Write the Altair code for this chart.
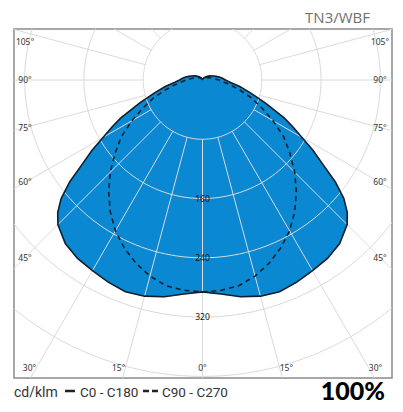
import altair as alt
import pandas as pd
import math

# ---------------- data ----------------
# C0 - C180 plane (solid, filled), cd/klm vs gamma (degrees)
gamma_solid = [0, 5, 10, 15, 20, 25, 30, 35, 40, 45, 47.5, 50, 52.5, 55, 57.5, 60, 62.5, 65,
               70, 75, 80, 85, 90, 95, 100, 105, 110, 120, 135, 150, 165, 180]
i_solid = [286, 290, 297, 302, 304, 301, 297, 294, 288, 276, 265, 249, 226, 198, 177, 155, 138, 122,
           90, 67, 51, 38, 31, 27, 23, 19, 16, 11, 6, 3, 1.5, 1]

# C90 - C270 plane (dashed)
gamma_dash = [0, 5, 10, 15, 20, 25, 30, 35, 40, 45, 50, 55, 60, 65, 70, 75, 80, 85, 90,
              100, 110, 120, 135, 150, 165, 180]
i_dash = [286, 285, 282, 274, 263, 250, 235, 217, 197, 176, 154, 134, 110, 88, 70, 52, 38, 28, 22,
          14, 9, 6, 4, 2, 1, 1]

ring_values = [80, 160, 240, 320, 400, 480, 560, 640]
ring_labels = [160, 240, 320]
spoke_angles = list(range(0, 360, 15))
side_angle_labels = [105, 90, 75, 60, 45]
bottom_angle_labels = [30, 15, 0]

title_text = "TN3/WBF"
unit_text = "cd/klm"
legend_c0 = "C0 - C180"
legend_c90 = "C90 - C270"
efficiency_text = "100%"

# ---------------- layout ----------------
W, H = 378, 349
K = 0.741          # px per cd
CX, CY = 188.5, 51  # pole position inside the plot area (px)
xdom = [-CX / K, (W - CX) / K]
ydom = [-(H - CY) / K, CY / K]
xs = alt.Scale(domain=xdom, nice=False, zero=False)
ys = alt.Scale(domain=ydom, nice=False, zero=False)

FILL = "#0a88d2"
GRID = "#dadada"
INK = "#12202c"
LABEL_FONT = "Noto Sans"
FOOT_FONT = "Roboto"

# polygon / curve tables
def curve(gammas, values, name):
    rows = []
    n = 0
    for g, v in zip(reversed(gammas), reversed(values)):
        rows.append({"gamma": g, "I": v, "side": -1, "ord": n, "curve": name}); n += 1
    for g, v in zip(gammas, values):
        rows.append({"gamma": g, "I": v, "side": 1, "ord": n, "curve": name}); n += 1
    return pd.DataFrame(rows)

solid_df = curve(gamma_solid, i_solid, "C0 - C180")
dash_df = curve(gamma_dash, i_dash, "C90 - C270")

ring_rows = []
for r in ring_values:
    for j, t in enumerate(range(0, 362, 2)):
        ring_rows.append({"gamma": t, "I": r, "side": 1, "ord": j, "ring": r})
ring_df = pd.DataFrame(ring_rows)

spoke_rows = []
for a in spoke_angles:
    spoke_rows.append({"gamma": a, "I": 80, "side": 1, "ord": 0, "spoke": a})
    spoke_rows.append({"gamma": a, "I": 900, "side": 1, "ord": 1, "spoke": a})
spoke_df = pd.DataFrame(spoke_rows)

calc_x = "datum.side * datum.I * sin(datum.gamma * PI / 180)"
calc_y = "-datum.I * cos(datum.gamma * PI / 180)"

def polar(df):
    return alt.Chart(df).transform_calculate(px=calc_x, py=calc_y)

enc_xy = dict(x=alt.X("px:Q", scale=xs, axis=None), y=alt.Y("py:Q", scale=ys, axis=None),
              order=alt.Order("ord:Q"))

fill_layer = polar(solid_df).mark_line(fill=FILL, stroke=FILL, strokeWidth=0.5).encode(**enc_xy)
rings = polar(ring_df).mark_line(stroke=GRID, strokeWidth=1, clip=True).encode(
    detail="ring:N", **enc_xy)
spokes = polar(spoke_df).mark_line(stroke=GRID, strokeWidth=1, clip=True).encode(
    detail="spoke:N", **enc_xy)
outline = polar(solid_df).mark_line(stroke=INK, strokeWidth=1.6).encode(**enc_xy)
dashed = polar(dash_df).mark_line(stroke=INK, strokeWidth=1.6, strokeDash=[5, 4]).encode(**enc_xy)

# ring value labels
ring_lab_df = pd.DataFrame({"val": ring_labels})
ring_labels_layer = alt.Chart(ring_lab_df).transform_calculate(
    px="0", py="-datum.val", txt="toString(datum.val)").mark_text(
    font=LABEL_FONT, fontSize=8.5, color="#111111").encode(
    x=alt.X("px:Q", scale=xs, axis=None), y=alt.Y("py:Q", scale=ys, axis=None), text="txt:N")

# angle labels on the frame
lab_rows = []
x_in = (CX - 11) / K
for a in side_angle_labels:
    v = -x_in * math.cos(math.radians(a)) / math.sin(math.radians(a))
    v = min(v, (CY - 13) / K)
    for s in (-1, 1):
        lab_rows.append({"px": s * x_in, "py": v, "txt": f"{a}°", "align": "center"})
y_in = -(H - CY - 10) / K
for a in bottom_angle_labels:
    xv = -y_in * math.tan(math.radians(a))
    if a == 0:
        lab_rows.append({"px": 0, "py": y_in, "txt": "0°", "align": "center"})
    else:
        lab_rows.append({"px": -xv, "py": y_in, "txt": f"{a}°", "align": "right"})
        lab_rows.append({"px": xv, "py": y_in, "txt": f"{a}°", "align": "left"})
lab_df = pd.DataFrame(lab_rows)
angle_layers = []
for al in ["center", "left", "right"]:
    sub = lab_df[lab_df["align"] == al]
    angle_layers.append(alt.Chart(sub).mark_text(
        font=LABEL_FONT, fontSize=8.5, color="#333333", align=al).encode(
        x=alt.X("px:Q", scale=xs, axis=None), y=alt.Y("py:Q", scale=ys, axis=None), text="txt:N"))

# title and footer
def note(text, x, y, **kw):
    return alt.Chart(pd.DataFrame({"t": [text]})).mark_text(**kw).encode(
        x=alt.value(x), y=alt.value(y), text="t:N")

title = note(title_text, 356, -11, font="Open Sans", fontSize=15, color="#6f6f6f",
             align="right", baseline="middle")
f_unit = note(unit_text, 0, 364, font=FOOT_FONT, fontSize=14, color="#333333", align="left")
f_c0 = note(legend_c0, 66, 364, font=FOOT_FONT, fontSize=13.5, color="#333333", align="left")
f_c90 = note(legend_c90, 148, 364, font=FOOT_FONT, fontSize=13.5, color="#333333", align="left")
f_eff = note(efficiency_text, 371, 363, font="Lato", fontSize=25, fontWeight=900,
             color="#000000", align="right")
leg_solid = alt.Chart(pd.DataFrame({"c": [legend_c0]})).mark_rule(
    color="#222222", strokeWidth=2.5).encode(x=alt.value(51), x2=alt.value(61), y=alt.value(362))
leg_dash = alt.Chart(pd.DataFrame({"c": [legend_c90]})).mark_rule(
    color="#222222", strokeWidth=2.5, strokeDash=[6, 3]).encode(
    x=alt.value(129), x2=alt.value(145), y=alt.value(362))

chart = alt.layer(
    fill_layer, rings, spokes, outline, dashed, ring_labels_layer, *angle_layers,
    title, f_unit, f_c0, f_c90, f_eff, leg_solid, leg_dash
).properties(
    width=W, height=H,
    padding={"left": 6, "top": 21, "right": 3, "bottom": 34},
    autosize=alt.AutoSizeParams(type="none"),
).configure_view(stroke="#8a8a8a", strokeWidth=1.5)

chart.save("out.html", embed_options={"renderer": "svg", "actions": False})
